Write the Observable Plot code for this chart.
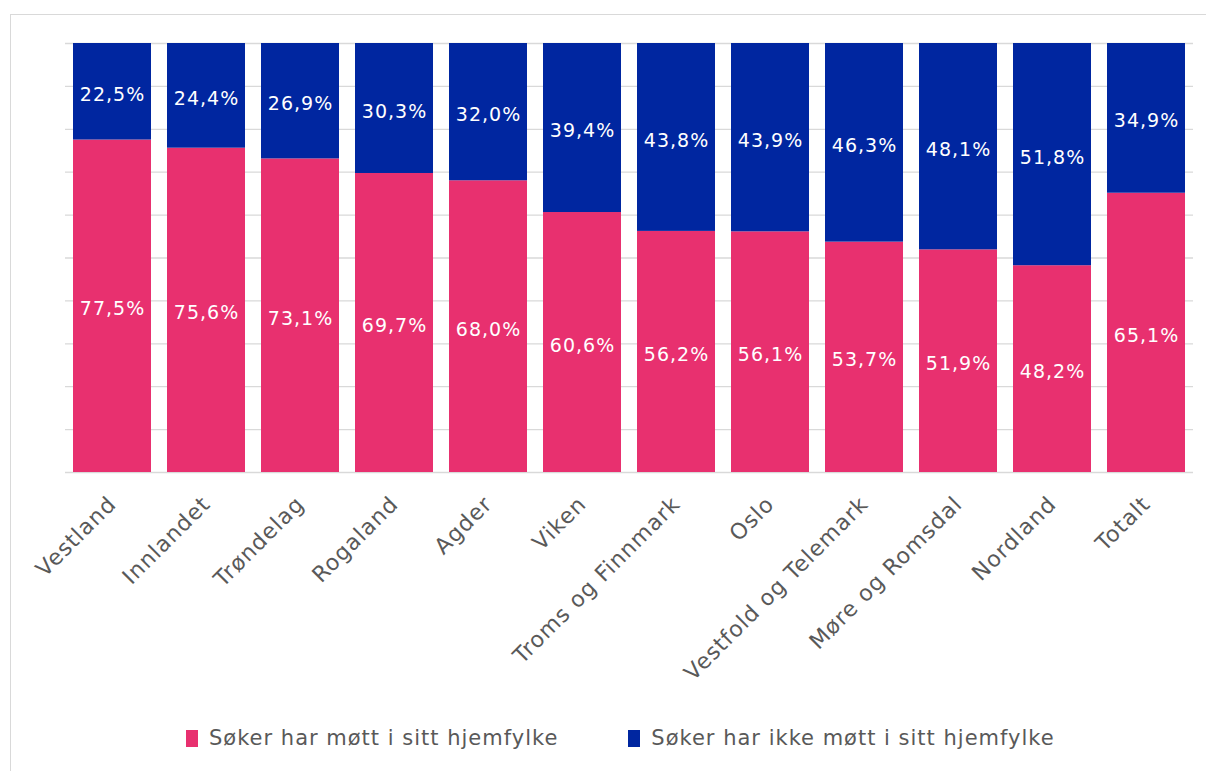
<!DOCTYPE html>
<html>
<head>
<meta charset="utf-8">
<script src="https://cdn.jsdelivr.net/npm/d3@7"></script>
<script src="https://cdn.jsdelivr.net/npm/@observablehq/plot@0.6"></script>
<style>
  html, body { margin: 0; padding: 0; background: #fff; overflow: hidden; width: 1206px; height: 771px; }
  #frame { position: absolute; left: 10px; top: 14px; width: 1300px; height: 900px; border: 1px solid #d9d9d9; box-sizing: border-box; }
  #chart { position: absolute; left: 0; top: 0; }
  #legend { position: absolute; left: 186px; top: 726px; display: flex; gap: 70px; font-family: "DejaVu Sans", sans-serif; font-size: 21px; letter-spacing: 1px; color: #595959; }
  .item { display: flex; align-items: center; gap: 11px; }
  .sw { width: 12px; height: 17px; display: inline-block; }
</style>
</head>
<body>
<div id="frame"></div>
<div id="chart"></div>
<div id="legend"></div>
<script>
const categories = ["Vestland","Innlandet","Trøndelag","Rogaland","Agder","Viken","Troms og Finnmark","Oslo","Vestfold og Telemark","Møre og Romsdal","Nordland","Totalt"];
const seriesNames = ["Søker har møtt i sitt hjemfylke","Søker har ikke møtt i sitt hjemfylke"];
const metHome = [77.5,75.6,73.1,69.7,68.0,60.6,56.2,56.1,53.7,51.9,48.2,65.1];
const notMetHome = [22.5,24.4,26.9,30.3,32.0,39.4,43.8,43.9,46.3,48.1,51.8,34.9];
const colors = ["#E8306F","#0026A0"];

const data = [];
categories.forEach((c, i) => data.push({cat: c, series: seriesNames[0], value: metHome[i]}));
categories.forEach((c, i) => data.push({cat: c, series: seriesNames[1], value: notMetHome[i]}));

const fmt = v => d3.format(".1f")(v).replace(".", ",") + "%";

const plot = Plot.plot({
  width: 1206,
  height: 700,
  marginLeft: 65,
  marginRight: 13,
  marginTop: 43,
  marginBottom: 228,
  style: { fontFamily: "DejaVu Sans, sans-serif", background: "transparent", letterSpacing: "1px" },
  x: { domain: categories, paddingInner: 0.17, paddingOuter: 0.085, label: null },
  y: { domain: [0, 100], axis: null },
  color: { domain: seriesNames, range: colors },
  marks: [
    Plot.gridY(d3.range(0, 101, 10), { stroke: "#d9d9d9", strokeOpacity: 1, strokeWidth: 1.3 }),
    Plot.barY(data, { x: "cat", y: "value", fill: "series" }),
    Plot.text(data, Plot.stackY({ x: "cat", y: "value", text: d => fmt(d.value), fill: "white", fontSize: 19, dy: 3 })),
    Plot.axisX({ tickSize: 0, tickRotate: -45, tickPadding: 28, fontSize: 22, fill: "#595959", label: null })
  ]
});
document.getElementById("chart").appendChild(plot);

const legend = document.getElementById("legend");
seriesNames.forEach((s, i) => {
  const it = document.createElement("div");
  it.className = "item";
  const sw = document.createElement("span");
  sw.className = "sw";
  sw.style.background = colors[i];
  const t = document.createElement("span");
  t.textContent = s;
  it.appendChild(sw); it.appendChild(t);
  legend.appendChild(it);
});
</script>
</body>
</html>
